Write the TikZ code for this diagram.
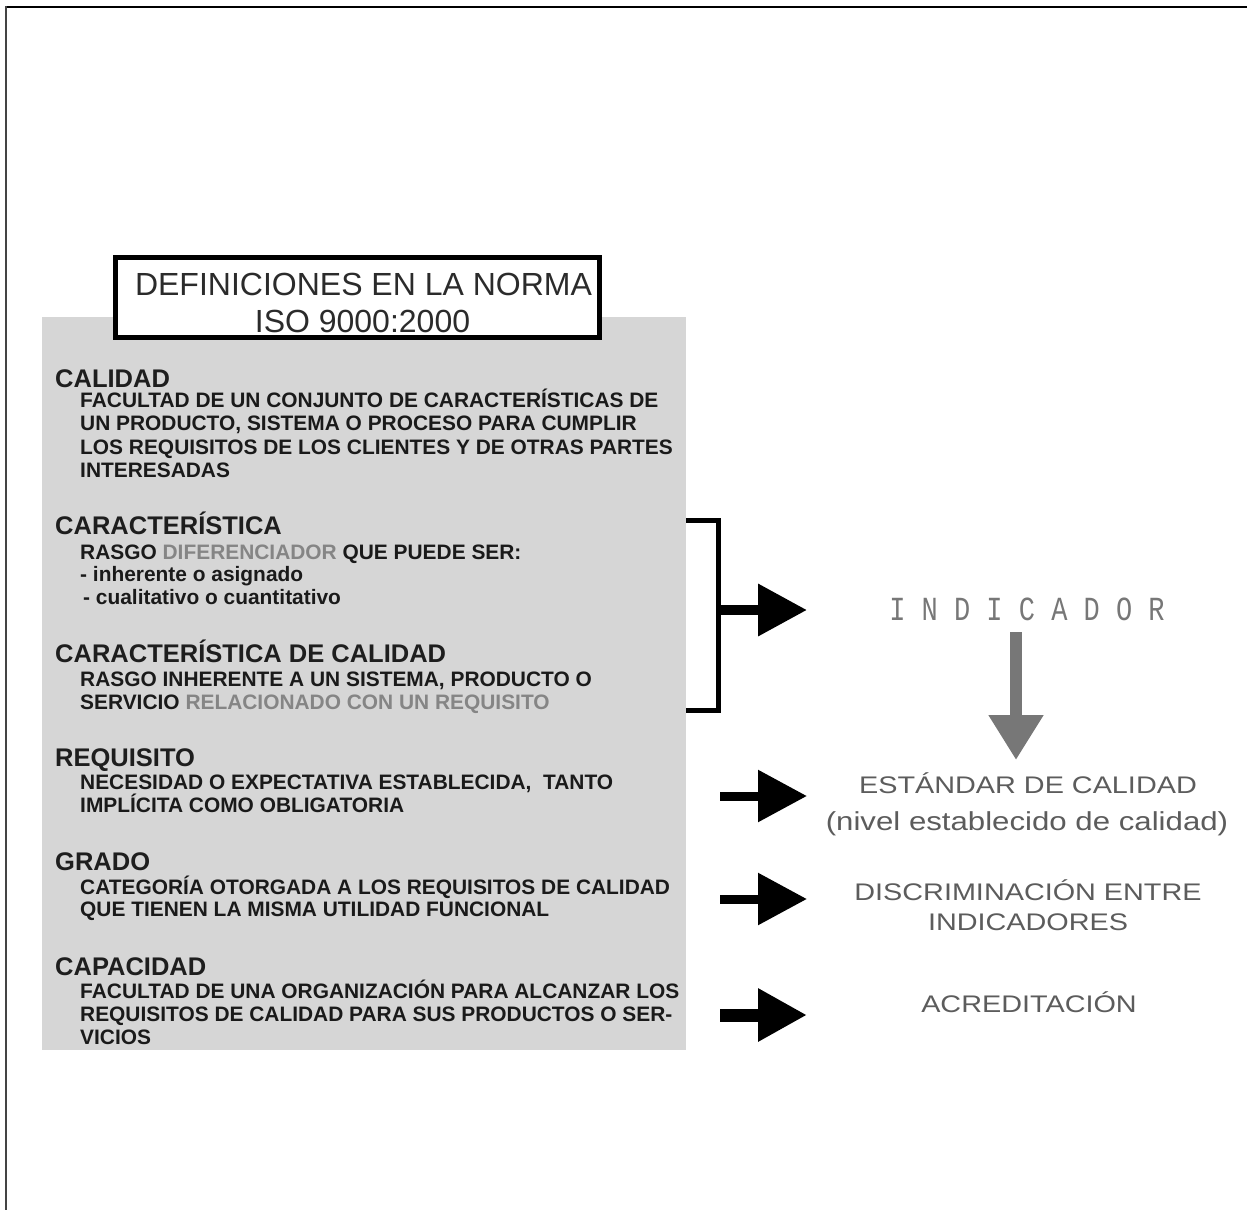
\documentclass[tikz,border=0pt]{standalone}
\usepackage{fontspec}
\usepackage{graphicx}
\setmainfont{Liberation Sans}
\newfontfamily\monofam{Liberation Mono}
\usetikzlibrary{arrows.meta}

\definecolor{panelgray}{HTML}{D6D6D6}
\definecolor{headc}{HTML}{1E1E1E}
\definecolor{bodyc}{HTML}{1A1A1A}
\definecolor{softc}{HTML}{858585}
\definecolor{titlec}{HTML}{2B2B2B}
\definecolor{rightc}{HTML}{5C5C5C}
\definecolor{downc}{HTML}{777777}
\definecolor{framec}{HTML}{444444}

\newcommand\widetext[1]{\scalebox{1.2}[1]{#1}}

\tikzset{
  head/.style={anchor=base west, inner sep=0pt, text=headc,
    font=\fontsize{25.5}{28}\selectfont\bfseries},
  body/.style={anchor=base west, inner sep=0pt, text=bodyc,
    font=\fontsize{20.9}{23}\selectfont\bfseries},
  titletext/.style={anchor=base, inner sep=0pt, text=titlec,
    font=\fontsize{32}{36}\selectfont},
  result/.style={anchor=base, inner sep=0pt, text=rightc,
    font=\fontsize{24}{28}\selectfont},
  blackarrow/.style={line width=#1, black,
    -{Triangle[length=49pt,width=50pt]}},
  grayarrow/.style={line width=12pt, downc,
    -{Triangle[length=45pt,width=52pt]}},
}

\begin{document}
\begin{tikzpicture}[x=1pt,y=-1pt]
\useasboundingbox (0,0) rectangle (1247,1210);

% outer frame (top and left edges)
\draw[line width=2pt, black] (5,6.5) -- (1247,6.5);
\draw[line width=2pt, framec] (5.5,6) -- (5.5,1210);

% grey definitions panel
\node[fill=panelgray, anchor=north west, inner sep=0pt,
      minimum width=644pt, minimum height=733pt] (panel) at (42,317) {};

% title box
\node[draw=black, fill=white, line width=5pt, inner sep=0pt,
      minimum width=484pt, minimum height=80pt] (titlebox) at (357.5,297.5) {};
\node[titletext] (t1) at (363.5,295) {DEFINICIONES EN LA NORMA};
\node[titletext] (t2) at (362.5,332) {ISO 9000:2000};

% CALIDAD
\node[head] (h1) at (55,387) {CALIDAD};
\node[body] (b11) at (80,407) {FACULTAD DE UN CONJUNTO DE CARACTERÍSTICAS DE};
\node[body] (b12) at (80,430) {UN PRODUCTO, SISTEMA O PROCESO PARA CUMPLIR};
\node[body] (b13) at (80,454) {LOS REQUISITOS DE LOS CLIENTES Y DE OTRAS PARTES};
\node[body] (b14) at (80,477) {INTERESADAS};

% CARACTERISTICA
\node[head] (h2) at (55,534) {CARACTERÍSTICA};
\node[body] (b21) at (80,559) {RASGO \textcolor{softc}{DIFERENCIADOR} QUE PUEDE SER:};
\node[body] (b22) at (80,581) {- inherente o asignado};
\node[body] (b23) at (83,604) {- cualitativo o cuantitativo};

% CARACTERISTICA DE CALIDAD
\node[head] (h3) at (55,662) {CARACTERÍSTICA DE CALIDAD};
\node[body] (b31) at (80,686) {RASGO INHERENTE A UN SISTEMA, PRODUCTO O};
\node[body] (b32) at (80,709) {SERVICIO \textcolor{softc}{RELACIONADO CON UN REQUISITO}};

% REQUISITO
\node[head] (h4) at (55,766) {REQUISITO};
\node[body] (b41) at (80,789) {NECESIDAD O EXPECTATIVA ESTABLECIDA,\ \ TANTO};
\node[body] (b42) at (80,812) {IMPLÍCITA COMO OBLIGATORIA};

% GRADO
\node[head] (h5) at (55,870) {GRADO};
\node[body] (b51) at (80,894) {CATEGORÍA OTORGADA A LOS REQUISITOS DE CALIDAD};
\node[body] (b52) at (80,916) {QUE TIENEN LA MISMA UTILIDAD FUNCIONAL};

% CAPACIDAD
\node[head] (h6) at (55,975) {CAPACIDAD};
\node[body] (b61) at (80,998) {FACULTAD DE UNA ORGANIZACIÓN PARA ALCANZAR LOS};
\node[body] (b62) at (80,1021) {REQUISITOS DE CALIDAD PARA SUS PRODUCTOS O SER-};
\node[body] (b63) at (80,1044) {VICIOS};

% results on the right
\node[anchor=base, inner sep=0pt, text=downc,
      font=\fontsize{27}{30}\selectfont\monofam] (ind) at (1027,620)
      {\scalebox{1}[1.25]{I N D I C A D O R}};
\node[result] (est) at (1028,793) {\widetext{ESTÁNDAR DE CALIDAD}};
\node[result, font=\fontsize{26}{30}\selectfont] (estsub) at (1027,830)
      {\widetext{(nivel establecido de calidad)}};
\node[result] (disc) at (1028,900) {\widetext{DISCRIMINACIÓN ENTRE}};
\node[result] (disc2) at (1028,930) {\widetext{INDICADORES}};
\node[result] (acr) at (1029,1012) {\widetext{ACREDITACIÓN}};

% bracket grouping the two characteristic definitions
\coordinate (brtop) at (686,520);
\coordinate (brbot) at (686,710);
\coordinate (brmid) at (718,610);
\draw[line width=5pt, line join=miter] (brtop) -| (brmid) |- (brbot);

% connector end points
\coordinate (tip1) at (807,610);
\coordinate (s2) at (720,796);
\coordinate (tip2) at (807,796);
\coordinate (s3) at (720,899);
\coordinate (tip3) at (807,899);
\coordinate (s4) at (720,1015);
\coordinate (tip4) at (807,1015);
\coordinate (dtop) at (1016,632);
\coordinate (dtip) at (1016,760);

\draw[blackarrow=10pt] (brmid) -- (tip1);
\draw[blackarrow=9pt] (s2) -- (tip2);
\draw[blackarrow=9pt] (s3) -- (tip3);
\draw[blackarrow=13pt] (s4) -- (tip4);
\draw[grayarrow] (dtop) -- (dtip);
\end{tikzpicture}
\end{document}
